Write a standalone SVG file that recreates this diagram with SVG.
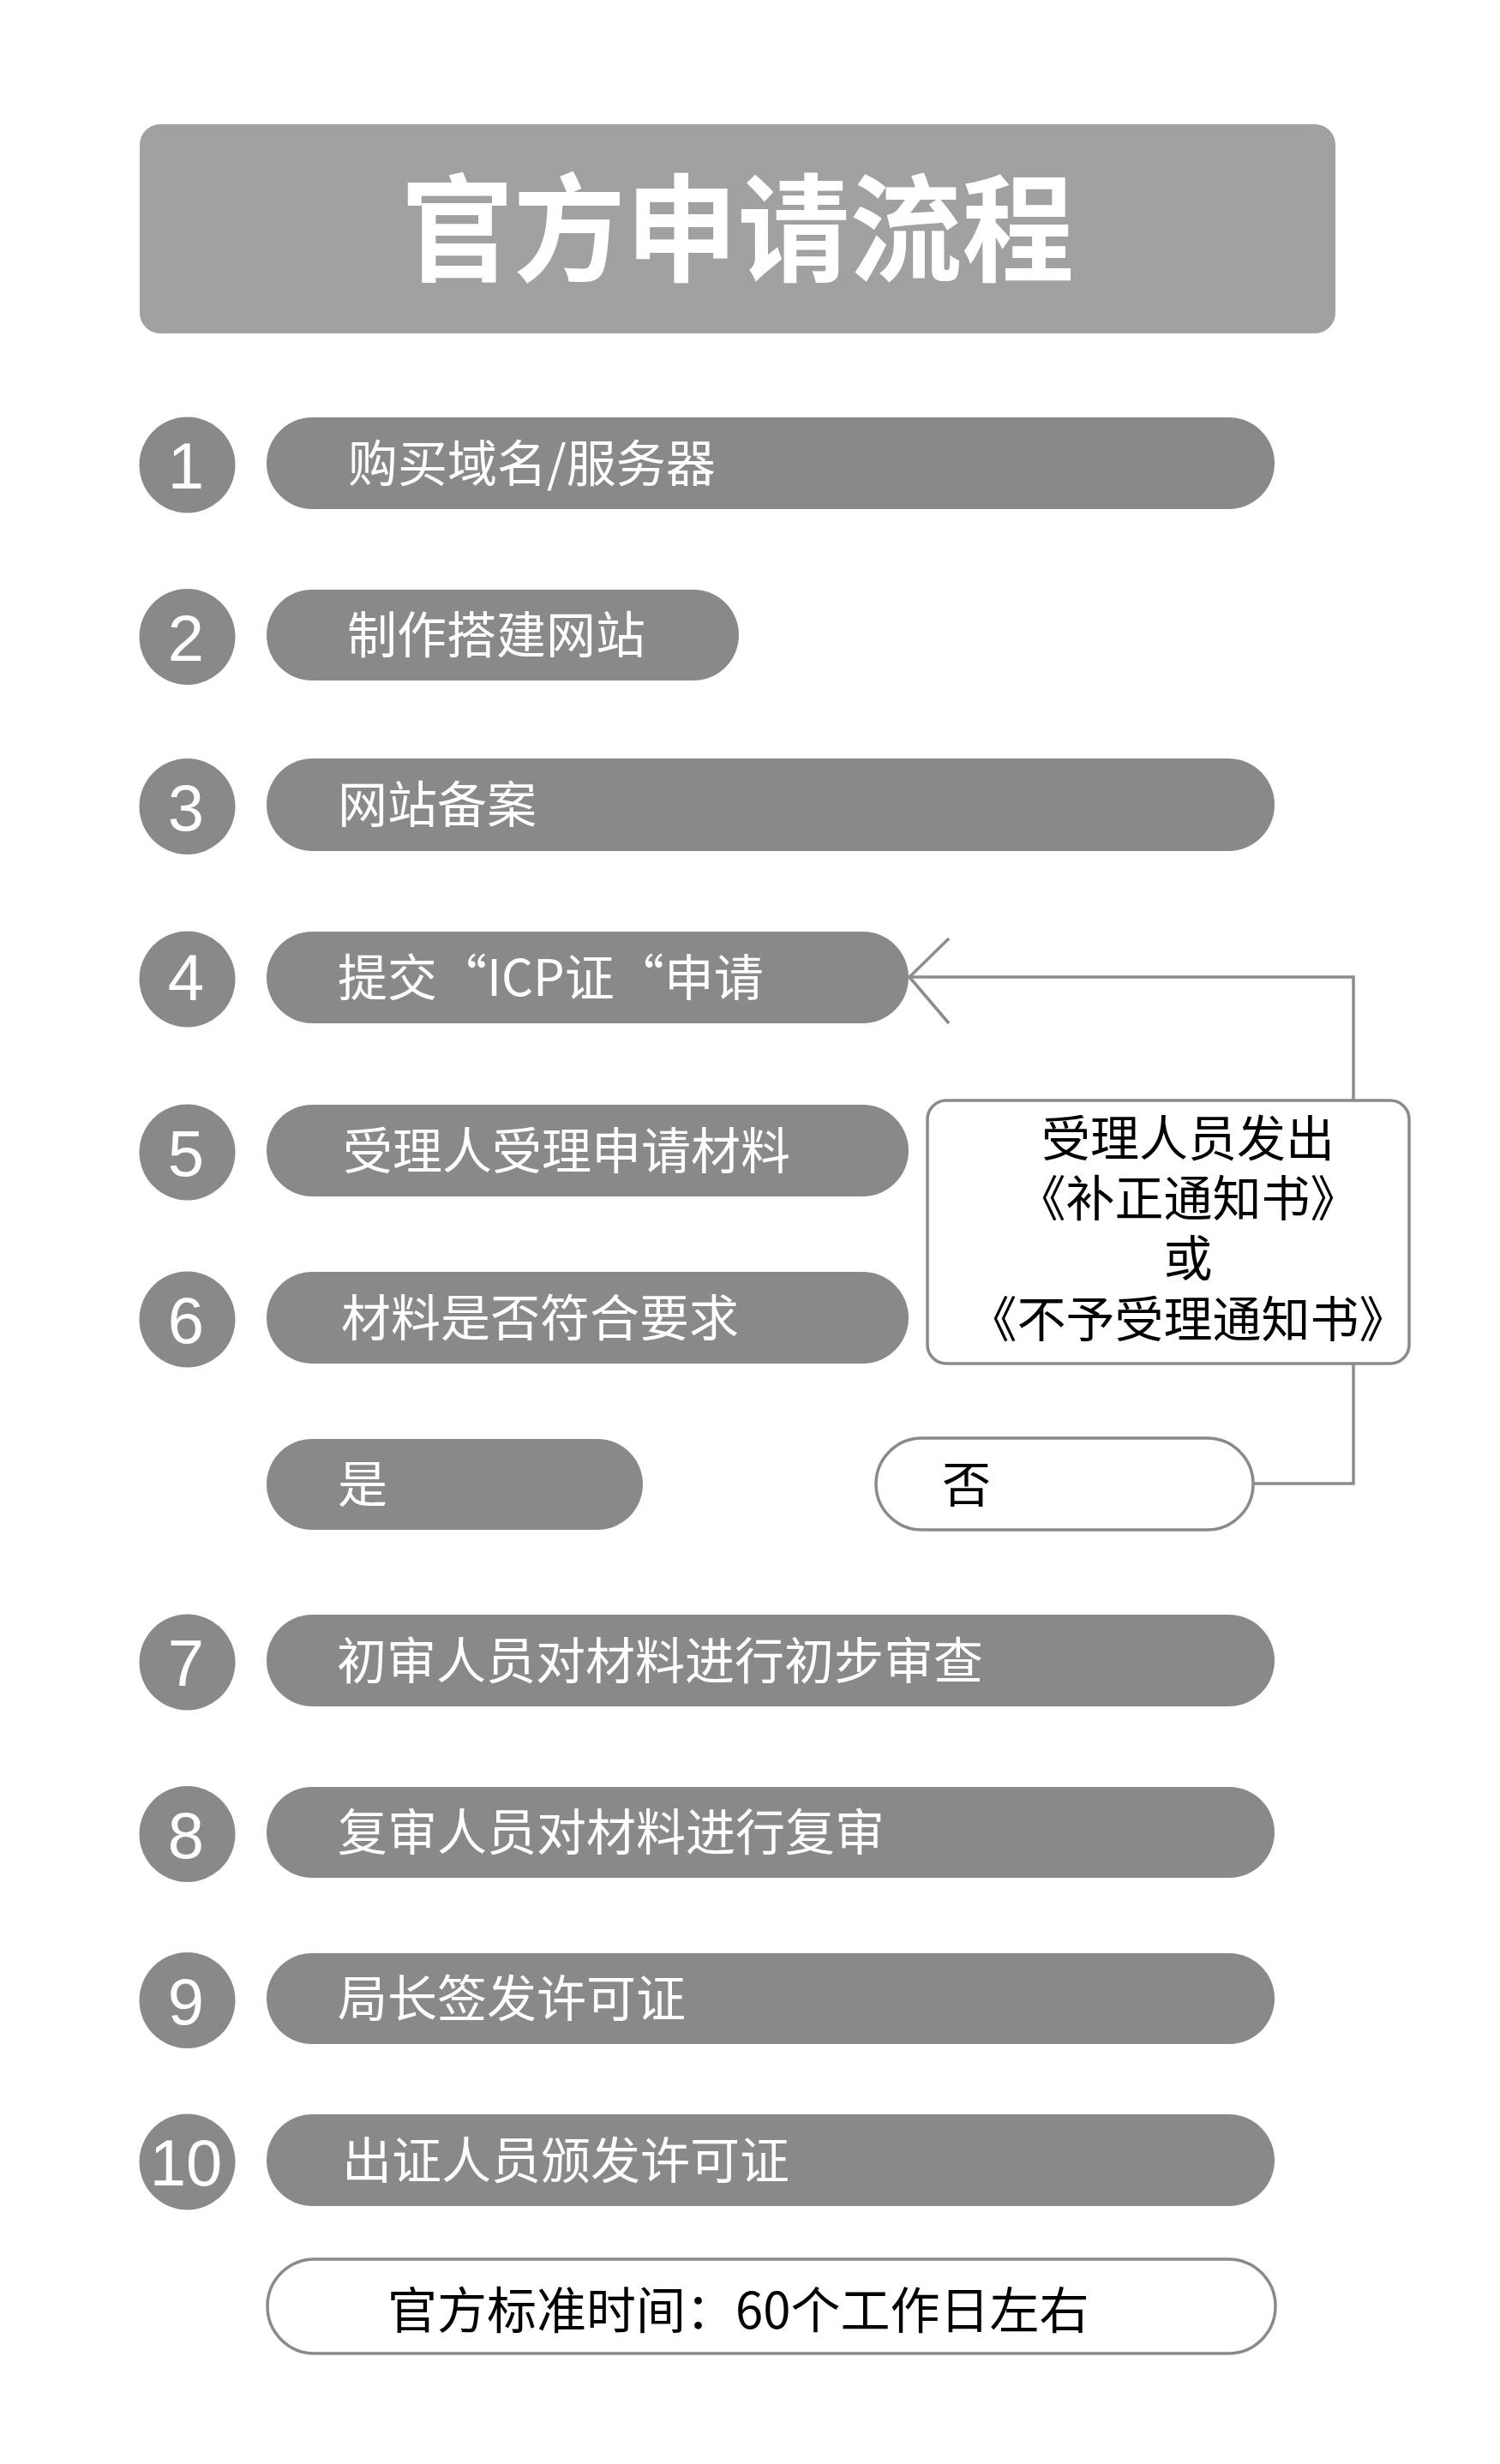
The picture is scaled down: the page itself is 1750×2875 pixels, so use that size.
<svg xmlns="http://www.w3.org/2000/svg" width="1750" height="2875" viewBox="0 0 1750 2875">
<style>
.pill{fill:#898989}
.circ{fill:#898989}
.wbox{fill:#ffffff;stroke:#8a8a8a;stroke-width:3.5}
.ptxt{font-family:"Noto Sans CJK SC","Noto Sans",sans-serif;font-size:58px;fill:#ffffff}
.btxt{font-family:"Noto Sans CJK SC","Noto Sans",sans-serif;font-size:57px;fill:#000000}
.num{font-family:"Liberation Sans",Arial,sans-serif;font-size:76px;fill:#ffffff;text-anchor:middle}
.conn{fill:none;stroke:#8c8c8c;stroke-width:3.5}
</style>
<rect x="0" y="0" width="1750" height="2875" fill="#ffffff"/>
<g id="title">
<rect x="163" y="145" width="1395" height="244" rx="24" ry="24" fill="#a0a1a0"/>
<text x="860.5" y="318" text-anchor="middle" font-family="'Noto Sans CJK SC','Noto Sans',sans-serif" font-size="136" font-weight="bold" fill="#ffffff" textLength="785" lengthAdjust="spacingAndGlyphs">官方申请流程</text>
</g>
<g id="step1">
<circle class="circ" cx="218.5" cy="542.5" r="56"/>
<text class="num" x="217" y="570">1</text>
<rect class="pill" x="311" y="487" width="1176" height="107" rx="53.5" ry="53.5"/>
<text class="ptxt" x="406" y="561.5">购买域名/服务器</text>
</g>
<g id="step2">
<circle class="circ" cx="218.5" cy="743" r="56"/>
<text class="num" x="217" y="770.5">2</text>
<rect class="pill" x="311" y="688" width="551" height="106" rx="53" ry="53"/>
<text class="ptxt" x="405" y="762">制作搭建网站</text>
</g>
<g id="step3">
<circle class="circ" cx="218.5" cy="941" r="56"/>
<text class="num" x="217" y="968.5">3</text>
<rect class="pill" x="311" y="885" width="1176" height="108" rx="54" ry="54"/>
<text class="ptxt" x="394" y="960">网站备案</text>
</g>
<g id="step4">
<circle class="circ" cx="218.5" cy="1142.5" r="56"/>
<text class="num" x="217" y="1167">4</text>
<rect class="pill" x="311" y="1087" width="749" height="107" rx="53.5" ry="53.5"/>
<text class="ptxt" x="394" y="1162">提交“ICP证“申请</text>
</g>
<g id="step5">
<circle class="circ" cx="218.5" cy="1344.5" r="56"/>
<text class="num" x="217" y="1372">5</text>
<rect class="pill" x="311" y="1289" width="749" height="107" rx="53.5" ry="53.5"/>
<text class="ptxt" x="400" y="1363.5">受理人受理申请材料</text>
</g>
<g id="step6">
<circle class="circ" cx="218.5" cy="1539.5" r="56"/>
<text class="num" x="217" y="1567">6</text>
<rect class="pill" x="311" y="1484" width="749" height="107" rx="53.5" ry="53.5"/>
<text class="ptxt" x="398" y="1558.5">材料是否符合要求</text>
</g>
<g id="yes">
<rect class="pill" x="311" y="1679" width="439" height="106" rx="53" ry="53"/>
<text class="ptxt" x="394" y="1753">是</text>
</g>
<g id="no">
<rect class="wbox" x="1022" y="1678" width="440" height="107" rx="53.5" ry="53.5"/>
<text class="btxt" x="1099" y="1753">否</text>
</g>
<g id="notice">
<rect class="wbox" x="1082" y="1284" width="562" height="307" rx="22" ry="22"/>
<text class="btxt" text-anchor="middle"><tspan x="1386" y="1349">受理人员发出</tspan><tspan x="1386" y="1419">《补正通知书》</tspan><tspan x="1386" y="1489">或</tspan><tspan x="1386" y="1560">《不予受理通知书》</tspan></text>
</g>
<g id="step7">
<circle class="circ" cx="218.5" cy="1939.5" r="56"/>
<text class="num" x="217" y="1967">7</text>
<rect class="pill" x="311" y="1884" width="1176" height="107" rx="53.5" ry="53.5"/>
<text class="ptxt" x="393" y="1958.5">初审人员对材料进行初步审查</text>
</g>
<g id="step8">
<circle class="circ" cx="218.5" cy="2140" r="56"/>
<text class="num" x="217" y="2167.5">8</text>
<rect class="pill" x="311" y="2085" width="1176" height="106" rx="53" ry="53"/>
<text class="ptxt" x="394" y="2159">复审人员对材料进行复审</text>
</g>
<g id="step9">
<circle class="circ" cx="218.5" cy="2334" r="56"/>
<text class="num" x="217" y="2361.5">9</text>
<rect class="pill" x="311" y="2279" width="1176" height="106" rx="53" ry="53"/>
<text class="ptxt" x="394" y="2353">局长签发许可证</text>
</g>
<g id="step10">
<circle class="circ" cx="218.5" cy="2522.5" r="56"/>
<text class="num" x="217" y="2550">10</text>
<rect class="pill" x="311" y="2467" width="1176" height="107" rx="53.5" ry="53.5"/>
<text class="ptxt" x="399" y="2541.5">出证人员颁发许可证</text>
</g>
<g id="footer">
<rect class="wbox" x="312" y="2636" width="1176" height="110" rx="55" ry="55"/>
<text x="452" y="2717" font-family="'Noto Sans CJK SC','Noto Sans',sans-serif" font-size="58" fill="#000000">官方标准时间：60个工作日左右</text>
</g>
<g id="connectors">
<polyline class="conn" points="1462,1731 1579,1731 1579,1592"/>
<polyline class="conn" points="1579,1284 1579,1140 1061,1140"/>
<polyline class="conn" points="1107,1095 1061,1140 1107,1194"/>
</g>
</svg>
